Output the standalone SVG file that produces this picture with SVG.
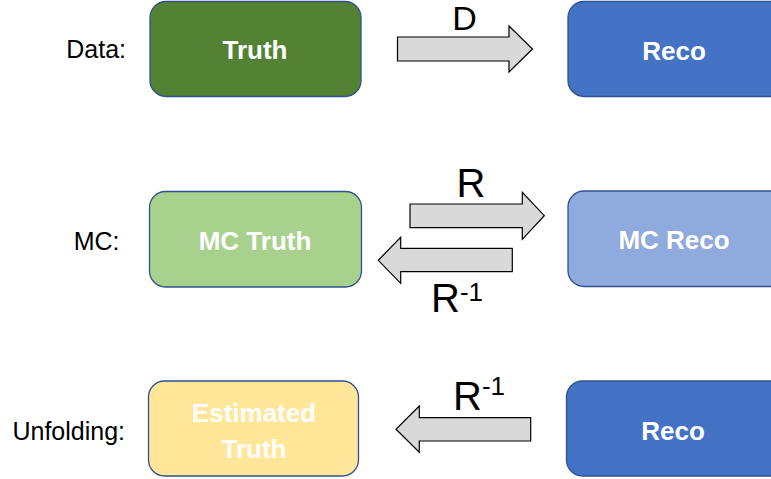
<svg xmlns="http://www.w3.org/2000/svg" width="771" height="479" viewBox="0 0 771 479">
<style>
.box{stroke:#2F528F;stroke-width:1.3}
.lbl{font-family:"Liberation Sans",Arial,sans-serif;font-weight:bold;font-size:26px;fill:#FFFFFF;text-anchor:middle}
.row{font-family:"Liberation Sans",Arial,sans-serif;font-size:25px;fill:#000000;text-anchor:end}
.op{font-family:"Liberation Sans",Arial,sans-serif;fill:#000000}
.arr{fill:#D9D9D9;stroke:#000000;stroke-width:1.2;stroke-linejoin:miter}
</style>
<rect width="771" height="479" fill="#FFFFFF"/>
<g id="row-labels">
<text class="row" x="126" y="58">Data:</text>
<text class="row" x="119.5" y="250">MC:</text>
<text class="row" x="125" y="440">Unfolding:</text>
</g>
<g id="truth">
<rect class="box" x="150" y="1.5" width="211" height="95" rx="16" fill="#548235"/>
<text class="lbl" x="255" y="59">Truth</text>
</g>
<g id="reco">
<rect class="box" x="568" y="1.5" width="220" height="95" rx="16" fill="#4472C4"/>
<text class="lbl" x="674" y="60">Reco</text>
</g>
<g id="mc-truth">
<rect class="box" x="149.5" y="191.5" width="212" height="95.5" rx="16" fill="#A9D18E"/>
<text class="lbl" x="255" y="250">MC Truth</text>
</g>
<g id="mc-reco">
<rect class="box" x="568" y="191" width="220" height="95.5" rx="16" fill="#8FAADC"/>
<text class="lbl" x="674" y="249">MC Reco</text>
</g>
<g id="estimated-truth">
<rect class="box" x="148.5" y="381" width="210" height="95" rx="16" fill="#FFE699"/>
<text class="lbl" x="254" y="421.5">Estimated</text>
<text class="lbl" x="254" y="458">Truth</text>
</g>
<g id="reco-unfold">
<rect class="box" x="566.5" y="381" width="220" height="95" rx="16" fill="#4472C4"/>
<text class="lbl" x="673" y="440">Reco</text>
</g>
<g id="connectors">
<path class="arr" d="M397.5,37 H509 V26 L532.5,49 L509,72 V61 H397.5 Z"/>
<text class="op" x="464.5" y="30" font-size="34" text-anchor="middle">D</text>
<path class="arr" d="M410,204 H522.3 V192.3 L544.3,215.7 L522.3,239.3 V227.7 H410 Z"/>
<text class="op" x="471" y="197" font-size="40" text-anchor="middle">R</text>
<path class="arr" d="M512.3,248.3 V271.7 H400.7 V283.3 L378.3,260.3 L400.7,237.3 V248.3 Z"/>
<text class="op" x="431" y="312" font-size="40">R<tspan font-size="26" dy="-11">-1</tspan></text>
<path class="arr" d="M530.7,417.7 V441 H419.3 V452.3 L396,429.3 L419.3,406 V417.7 Z"/>
<text class="op" x="453" y="409.5" font-size="40">R<tspan font-size="26" dy="-15">-1</tspan></text>
</g>
</svg>
